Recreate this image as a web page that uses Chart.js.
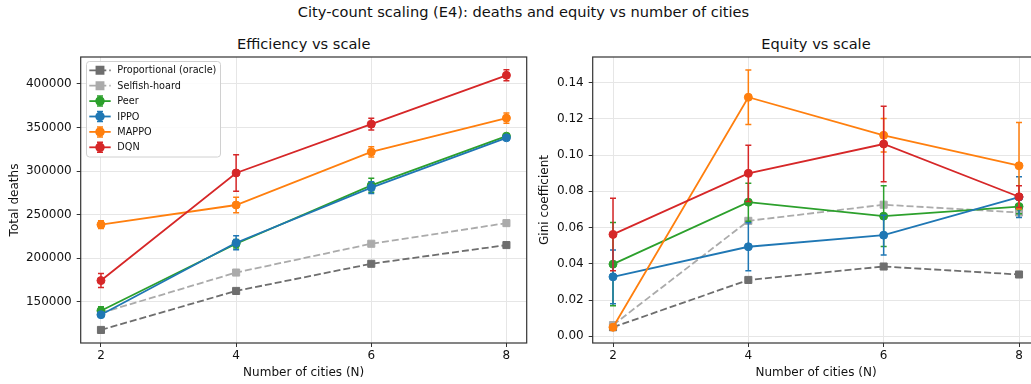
<!DOCTYPE html>
<html>
<head>
<meta charset="utf-8">
<script src="https://cdn.jsdelivr.net/npm/chart.js@4.4.1/dist/chart.umd.min.js"></script>
<style>
  body { margin: 0; width: 1031px; height: 384px; overflow: hidden; background: #fff; position: relative; font-family: 'DejaVu Sans', sans-serif; color: #111; }
  .ttl { position: absolute; width: 500px; text-align: center; font-size: 14.6px; line-height: 18px; white-space: nowrap; }
  canvas { position: absolute; top: 0; }
</style>
</head>
<body>
<div class="ttl" style="left:273.5px; top:2.7px;">City-count scaling (E4): deaths and equity vs number of cities</div>
<div class="ttl" style="left:53.7px; top:35.3px;">Efficiency vs scale</div>
<div class="ttl" style="left:566px; top:35.3px;">Equity vs scale</div>
<canvas id="effChart" width="540" height="384" style="left:0px"></canvas>
<canvas id="eqChart" width="520" height="384" style="left:530px"></canvas>
<script>
// data
const cities = [2, 4, 6, 8];
const seriesNames = ['Proportional (oracle)', 'Selfish-hoard', 'Peer', 'IPPO', 'MAPPO', 'DQN'];

const deathsProportional = [117500, 162300, 193500, 215000];
const deathsSelfish = [137000, 183400, 216500, 240200];
const deathsPeer = [139600, 216500, 283600, 340100];
const deathsPeerErr = [4500, 5000, 8000, 2000];
const deathsIppo = [135000, 217600, 281000, 338200];
const deathsIppoErr = [3000, 8000, 6700, 2500];
const deathsMappo = [238400, 261000, 322000, 360800];
const deathsMappoErr = [4500, 9000, 6000, 6000];
const deathsDqn = [174200, 297800, 353900, 410000];
const deathsDqnErr = [8000, 21000, 6700, 6300];

const giniProportional = [0.0050, 0.0311, 0.0385, 0.0341];
const giniSelfish = [0.0062, 0.0637, 0.0726, 0.0683];
const giniPeer = [0.0398, 0.0740, 0.0663, 0.0716];
const giniPeerErr = [0.0230, 0.0105, 0.0168, 0.0040];
const giniIppo = [0.0328, 0.0494, 0.0558, 0.0768];
const giniIppoErr = [0.0148, 0.0133, 0.0110, 0.0112];
const giniMappo = [0.0050, 0.1319, 0.1109, 0.0941];
const giniMappoErr = [0.0010, 0.0150, 0.0092, 0.0238];
const giniDqn = [0.0562, 0.0899, 0.1061, 0.0770];
const giniDqnErr = [0.0200, 0.0155, 0.0208, 0.0060];

const xTicks = [2, 4, 6, 8];
const deathsTicks = [150000, 200000, 250000, 300000, 350000, 400000];
const giniTicks = [0, 0.02, 0.04, 0.06, 0.08, 0.10, 0.12, 0.14];

const colors = ['#6e6e6e', '#ababab', '#2ca02c', '#1f77b4', '#ff7f0e', '#d62728'];

Chart.defaults.font.family = "'DejaVu Sans', sans-serif";
Chart.defaults.color = '#111';

function makeSets(values, errors) {
  return values.map((vals, i) => {
    const dashed = i < 2;
    return {
      label: seriesNames[i],
      data: cities.map((c, j) => ({ x: c, y: vals[j] })),
      errors: errors[i],
      borderColor: colors[i],
      backgroundColor: colors[i],
      pointBackgroundColor: colors[i],
      pointBorderColor: colors[i],
      borderWidth: 1.8,
      borderDash: dashed ? [7, 3] : [],
      pointStyle: dashed ? 'rect' : 'circle',
      pointRadius: dashed ? 5 : 4,
      pointBorderWidth: 1,
      tension: 0,
      order: values.length - i
    };
  });
}

// error bars under each line
const errorBars = {
  id: 'errorBars',
  beforeDatasetDraw(chart, args) {
    const ds = chart.data.datasets[args.index];
    if (!ds.errors) return;
    const xs = chart.scales.x, ys = chart.scales.y, ctx = chart.ctx;
    ctx.save();
    ctx.strokeStyle = ds.borderColor;
    ctx.lineWidth = 1.5;
    ds.data.forEach((p, j) => {
      const x = xs.getPixelForValue(p.x);
      const y1 = ys.getPixelForValue(p.y + ds.errors[j]);
      const y2 = ys.getPixelForValue(p.y - ds.errors[j]);
      ctx.beginPath();
      ctx.moveTo(x, y1); ctx.lineTo(x, y2);
      ctx.moveTo(x - 3, y1); ctx.lineTo(x + 3, y1);
      ctx.moveTo(x - 3, y2); ctx.lineTo(x + 3, y2);
      ctx.stroke();
    });
    ctx.restore();
  }
};

// box round the plot, like the spines
const frame = {
  id: 'frame',
  afterDraw(chart) {
    const a = chart.chartArea, ctx = chart.ctx;
    ctx.save();
    ctx.strokeStyle = '#333';
    ctx.lineWidth = 1.2;
    ctx.strokeRect(a.left, a.top, a.right - a.left, a.bottom - a.top);
    ctx.restore();
  }
};

// legend box in the top-left corner
const boxLegend = {
  id: 'boxLegend',
  afterDraw(chart) {
    const ctx = chart.ctx;
    ctx.save();
    ctx.fillStyle = 'rgba(255,255,255,0.85)';
    ctx.strokeStyle = '#d0d0d0';
    ctx.lineWidth = 1;
    ctx.beginPath();
    ctx.roundRect(86.5, 61.5, 134, 95.5, 3);
    ctx.fill();
    ctx.stroke();
    chart.data.datasets.forEach((ds, i) => {
      const y = 70.3 + i * 15.4;
      ctx.strokeStyle = ds.borderColor;
      ctx.fillStyle = ds.borderColor;
      ctx.lineWidth = 1.8;
      ctx.setLineDash(ds.borderDash);
      ctx.beginPath();
      ctx.moveTo(89.3, y); ctx.lineTo(110.7, y);
      ctx.stroke();
      ctx.setLineDash([]);
      if (ds.errors) {
        ctx.lineWidth = 1.5;
        ctx.beginPath();
        ctx.moveTo(100, y - 5); ctx.lineTo(100, y + 5);
        ctx.moveTo(97, y - 5); ctx.lineTo(103, y - 5);
        ctx.moveTo(97, y + 5); ctx.lineTo(103, y + 5);
        ctx.stroke();
      }
      Chart.helpers.drawPoint(ctx, { pointStyle: ds.pointStyle, radius: ds.pointRadius, borderWidth: 1 }, 100, y);
      ctx.fill();
      ctx.fillStyle = '#111';
      ctx.font = "9.7px 'DejaVu Sans'";
      ctx.textBaseline = 'middle';
      ctx.fillText(ds.label, 117.3, y + 0.5);
    });
    ctx.restore();
  }
};

function makeOptions(yMin, yMax, yTicks, yFmt, yTitle, yWidth, padRight) {
  return {
    responsive: false,
    animation: false,
    devicePixelRatio: 1,
    layout: { padding: { top: 57, right: padRight, bottom: 0, left: 0 } },
    plugins: { legend: { display: false }, tooltip: { enabled: false } },
    scales: {
      x: {
        type: 'linear',
        min: 1.7,
        max: 8.3,
        afterBuildTicks: s => { s.ticks = xTicks.map(v => ({ value: v })); },
        afterFit: s => { s.height = 41; },
        ticks: { font: { size: 12 }, padding: 2, callback: v => String(v) },
        grid: { color: '#e6e6e6', tickColor: '#333', tickLength: 4, lineWidth: 1 },
        border: { display: false },
        title: { display: true, text: 'Number of cities (N)', font: { size: 12 }, padding: { top: 0, bottom: 4 } }
      },
      y: {
        min: yMin,
        max: yMax,
        afterBuildTicks: s => { s.ticks = yTicks.map(v => ({ value: v })); },
        afterFit: s => { s.width = yWidth; },
        ticks: { font: { size: 12 }, padding: 5, callback: yFmt },
        grid: { color: '#e6e6e6', tickColor: '#333', tickLength: 4, lineWidth: 1 },
        border: { display: false },
        title: { display: true, text: yTitle, font: { size: 12 }, padding: { top: 8, bottom: 0 } }
      }
    }
  };
}

new Chart(document.getElementById('effChart'), {
  type: 'line',
  data: {
    datasets: makeSets(
      [deathsProportional, deathsSelfish, deathsPeer, deathsIppo, deathsMappo, deathsDqn],
      [null, null, deathsPeerErr, deathsIppoErr, deathsMappoErr, deathsDqnErr]
    )
  },
  options: makeOptions(102500, 431000, deathsTicks, v => String(v), 'Total deaths', 80.7, 13.3),
  plugins: [errorBars, frame, boxLegend]
});

new Chart(document.getElementById('eqChart'), {
  type: 'line',
  data: {
    datasets: makeSets(
      [giniProportional, giniSelfish, giniPeer, giniIppo, giniMappo, giniDqn],
      [null, null, giniPeerErr, giniIppoErr, giniMappoErr, giniDqnErr]
    )
  },
  options: makeOptions(-0.0037, 0.1541, giniTicks, v => v.toFixed(2), 'Gini coefficient', 62.7, 10.7),
  plugins: [errorBars, frame]
});
</script>
</body>
</html>
